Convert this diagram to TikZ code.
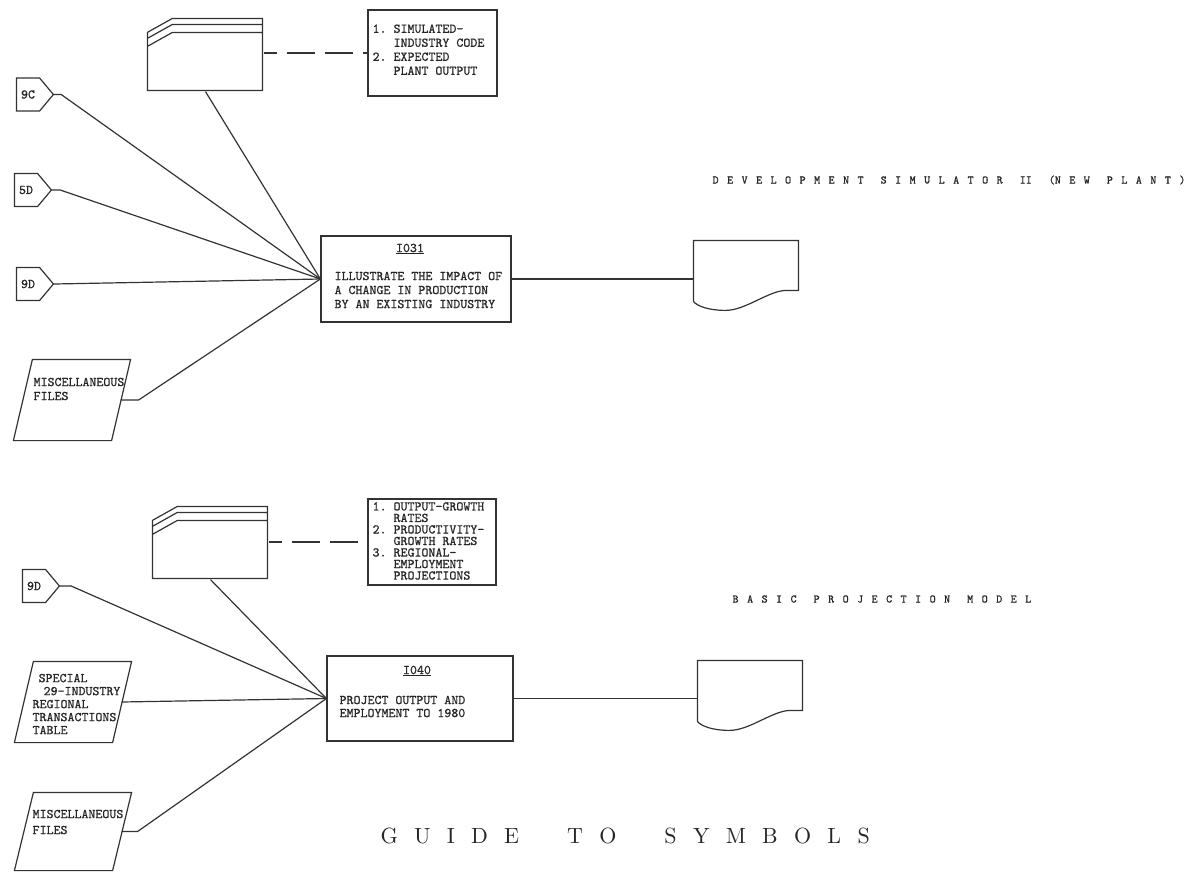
\documentclass[tikz,border=0pt]{standalone}
\usepackage{fontspec}
\usepackage{tikz}
\usetikzlibrary{shapes.symbols}

\setmonofont[FakeBold=0.8]{lmmono10-regular.otf}
\newfontfamily\spacedtt[LetterSpace=73.6, FakeBold=1]{lmmono10-regular.otf}
\newfontfamily\guidefont[LetterSpace=74]{lmroman10-regular.otf}
\newcommand\gap{\hspace{17pt}}

\newcommand\cardoutline[1]{%
  \draw[shift={(#1.north west)}] (0,72) -- (0,14) -- (25,0) -- (115,0) -- (115,72) -- cycle
    (0,20) -- (25,6) -- (115,6)
    (0,28) -- (25,14) -- (115,14);}
\newcommand\docoutline[1]{%
  \draw[shift={(#1.north west)}] (0,61) -- (0,0) -- (105,0) -- (105,50) -- (92,50)
    .. controls (74,51) and (52,70) .. (32,70)
    .. controls (16,70) and (4,66) .. (0,61);}
\newcommand\slantoutline[1]{%
  \draw ([xshift=19pt]#1.north west) -- (#1.north east) -- ([xshift=-19pt]#1.south east)
    -- (#1.south west) -- cycle;}

\begin{document}
\begin{tikzpicture}[x=1pt, y=-1pt, line width=1.2pt, draw=black!80,
    every node/.style={font=\ttfamily\fontsize{13.3}{14}\selectfont, text=black!85, inner sep=0pt},
    procbox/.style={draw, rectangle},
    blank/.style={rectangle},
    offpage/.style={draw, signal, signal to=east, signal pointer angle=100,
      minimum width=37pt, minimum height=33pt},
    dashline/.style={dash pattern=on 28pt off 10pt, dash phase=15pt},
    spaced/.style={font=\spacedtt\fontsize{11.5}{12}\selectfont, anchor=west}]
    \useasboundingbox (0,0) rectangle (1197,873);

    % development simulator
    \node[blank, minimum width=115pt, minimum height=72pt] (card1) at (205.5,55) {};
    \cardoutline{card1}
    \node[procbox, minimum width=129pt, minimum height=86pt] (keys1) at (432.5,53) {};
    \node[anchor=west] (list1) at (372,51) {\begin{tabular}{@{}l@{\hspace{7pt}}l@{}}
      1. & SIMULATED-\\ & INDUSTRY CODE\\ 2. & EXPECTED\\ & PLANT OUTPUT\end{tabular}};
    \node[offpage] (oc9c) at (28,94.5) {9C};
    \node[offpage] (oc5d) at (26,190) {5D};
    \node[offpage] (oc9d) at (28,284) {9D};
    \node[blank, minimum width=116pt, minimum height=80pt] (misc1) at (72,400) {};
    \slantoutline{misc1}
    \node[anchor=west, align=left] (misc1t) at (33,389) {MISCELLANEOUS\\FILES};
    \node[procbox, minimum width=190pt, minimum height=86pt] (io31) at (416,279) {};
    \node (io31h) at (410,249) {\underline{I031}};
    \node[anchor=west, align=left] (io31b) at (334,290) {ILLUSTRATE THE IMPACT OF\\A CHANGE IN PRODUCTION\\BY AN EXISTING INDUSTRY};
    \node[blank, minimum width=105pt, minimum height=70pt] (doc1) at (746.5,276) {};
    \docoutline{doc1}
    \node[spaced] (title1) at (712,180) {DEVELOPMENT\gap SIMULATOR\gap{\ttfamily II}\gap{\ttfamily(}NEW\gap PLANT)};

    \draw[dashline] (keys1.west -| card1.east) -- (keys1.west);
    \draw (card1.south) -- (io31.west);
    \draw (oc9c.east) -- ++(7,0) -- (io31.west);
    \draw (oc5d.east) -- ++(8,0) -- (io31.west);
    \draw (oc9d.east) -- (io31.west);
    \draw ([xshift=-10pt]misc1.east) -- ++(18,0) -- (io31.west);
    \draw (io31.east) -- (doc1.west |- io31.east);

    % basic projection model
    \node[blank, minimum width=115pt, minimum height=72pt] (card2) at (210.5,543) {};
    \cardoutline{card2}
    \node[procbox, minimum width=128pt, minimum height=86pt] (keys2) at (432,542) {};
    \node[anchor=west, font=\ttfamily\fontsize{13.3}{10.8}\selectfont] (list2) at (372,542.5) {\begin{tabular}{@{}l@{\hspace{7pt}}l@{}}
      1. & OUTPUT-GROWTH\\ & RATES\\ 2. & PRODUCTIVITY-\\ & GROWTH RATES\\ 3. & REGIONAL-\\ & EMPLOYMENT\\ & PROJECTIONS\end{tabular}};
    \node[offpage] (oc9db) at (34,586) {9D};
    \node[blank, minimum width=116pt, minimum height=80pt] (tab2) at (73,702) {};
    \slantoutline{tab2}
    \node[anchor=west, align=left, font=\ttfamily\fontsize{13.3}{13}\selectfont] (tab2t) at (32,704) {\hspace{6pt}SPECIAL\\\hspace{11pt}29-INDUSTRY\\REGIONAL\\TRANSACTIONS\\TABLE};
    \node[blank, minimum width=116pt, minimum height=77pt] (misc2) at (73,831.5) {};
    \slantoutline{misc2}
    \node[anchor=west, align=left, font=\ttfamily\fontsize{13.3}{16}\selectfont] (misc2t) at (32,822) {MISCELLANEOUS\\FILES};
    \node[procbox, minimum width=186pt, minimum height=85pt] (io40) at (420,698.5) {};
    \node (io40h) at (417,671) {\underline{I040}};
    \node[anchor=west, align=left, font=\ttfamily\fontsize{13.3}{13}\selectfont] (io40b) at (339,706.5) {PROJECT OUTPUT AND\\EMPLOYMENT TO 1980};
    \node[blank, minimum width=105pt, minimum height=70pt] (doc2) at (750.5,696) {};
    \docoutline{doc2}
    \node[spaced] (title2) at (732,599) {BASIC\gap PROJECTION\gap MODEL};

    \draw[dashline] (keys2.west -| card2.east) -- (keys2.west);
    \draw (card2.south) -- (io40.west);
    \draw (oc9db.east) -- ++(11,0) -- (io40.west);
    \draw ([xshift=-10pt]tab2.east) -- (io40.west);
    \draw ([xshift=-10pt]misc2.east) -- ++(16,0) -- (io40.west);
    \draw (io40.east) -- (doc2.west |- io40.east);

    \node[font=\guidefont\fontsize{22}{24}\selectfont, anchor=west] (guide) at (380,836) {GUIDE\hspace{48pt}TO\hspace{48pt}SYMBOLS};
\end{tikzpicture}
\end{document}
